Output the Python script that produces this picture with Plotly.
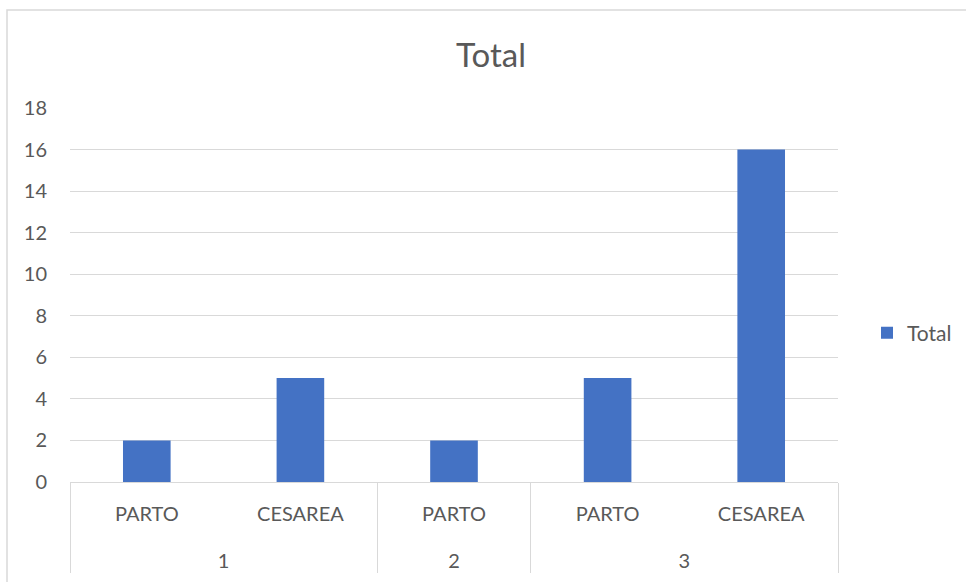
import plotly.graph_objects as go

groups = ["1", "1", "2", "3", "3"]
types = ["PARTO", "CESAREA", "PARTO", "PARTO", "CESAREA"]
values = [2, 5, 2, 5, 16]
yticks = [0, 2, 4, 6, 8, 10, 12, 14, 16, 18]

W, H = 966, 582
L, R, T, B = 70, 128, 108, 100
pw, ph = W - L - R, H - T - B

fig = go.Figure(go.Bar(
    x=[["<br><span style='baseline-shift:-9px'>" + g + "</span>" for g in groups], types],
    y=values, name="Total",
    marker=dict(color="#4472C4", line=dict(width=0)),
    showlegend=True,
))

font = "Lato, Carlito, 'Open Sans', sans-serif"
fig.update_layout(
    width=W, height=H,
    margin=dict(l=L, r=R, t=T, b=B, autoexpand=False),
    paper_bgcolor="white", plot_bgcolor="white",
    font=dict(family=font, color="#595959", size=20),
    bargap=0.69,
    title=dict(text="Total", x=(491) / W, xanchor="center", y=1 - 55 / H, yanchor="middle",
               font=dict(size=33, color="#595959", family=font)),
    legend=dict(x=(867 - L) / pw, xanchor="left", y=(H - B - 333) / ph, yanchor="middle",
                font=dict(size=21, color="#595959"), bgcolor="rgba(0,0,0,0)"),
    xaxis=dict(type="multicategory", showline=True, linecolor="#d9d9d9", linewidth=1,
               showdividers=True, dividercolor="#d9d9d9", dividerwidth=1,
               ticklabelstandoff=14,
               tickfont=dict(size=20, color="#595959"), showgrid=False),
    yaxis=dict(range=[0, 18], tickvals=yticks, showgrid=True, gridcolor="#d9d9d9",
               gridwidth=1, zeroline=False, showline=False,
               ticklabelstandoff=22, tickfont=dict(size=20, color="#595959")),
    shapes=[dict(type="rect", xref="paper", yref="paper",
                 x0=(7 - L) / pw, x1=(990 - L) / pw,
                 y0=(H - B - 600) / ph, y1=(H - B - 10) / ph,
                 line=dict(color="#d9d9d9", width=1.5), fillcolor="rgba(0,0,0,0)", layer="below")],
)
fig.write_html("out.html")
